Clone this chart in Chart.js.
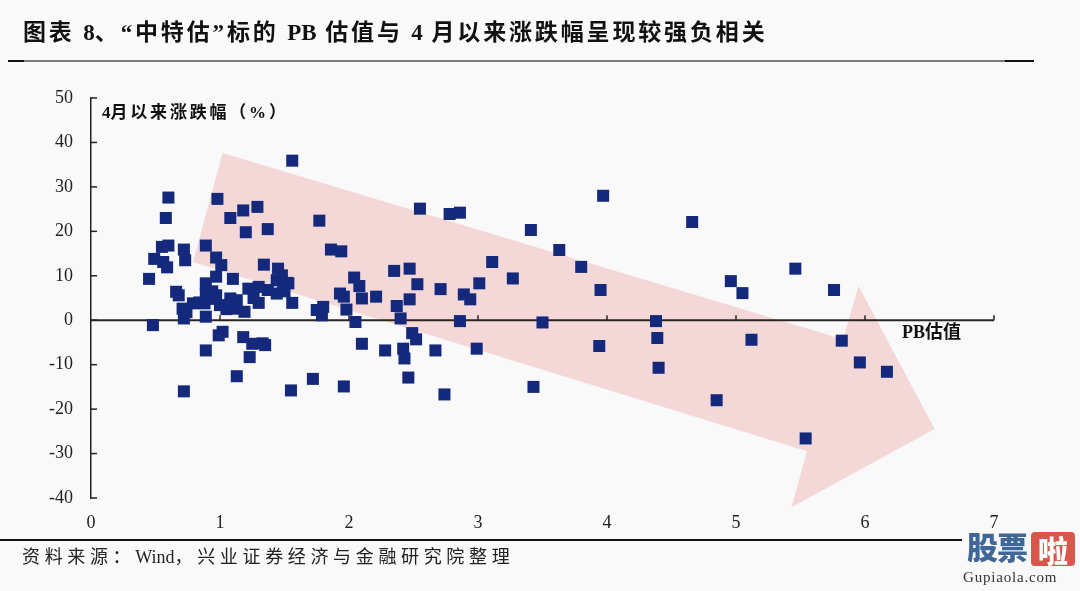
<!DOCTYPE html>
<html><head><meta charset="utf-8">
<script src="https://cdn.jsdelivr.net/npm/chart.js@4.4.0/dist/chart.umd.min.js"></script>
<style>
html,body{margin:0;padding:0;background:#f9f9f9;}
#wrap{position:relative;width:1080px;height:591px;overflow:hidden;background:#f9f9f9;}
canvas{position:absolute;left:0;top:0;}
.t{position:absolute;white-space:nowrap;color:#111;font-family:"Liberation Serif","Noto Sans CJK SC",serif;}
.l{letter-spacing:0;}
#title{left:23px;top:17px;font-size:23px;font-weight:700;letter-spacing:2.85px;line-height:32px;}
#ytitle{left:102px;top:102px;font-size:17px;font-weight:700;letter-spacing:2.8px;line-height:22px;}
#xtitle{left:902px;top:321px;font-size:18px;font-weight:700;line-height:22px;}
#foot{left:22px;top:545px;font-size:18px;letter-spacing:4.65px;line-height:24px;color:#222;}
.rule{position:absolute;}
#logo1{position:absolute;left:967px;top:527px;font-family:"Noto Sans CJK SC";font-weight:900;font-size:31px;line-height:38px;color:#3f6797;letter-spacing:-1px;}
#logo2{position:absolute;left:1031px;top:532px;width:44px;height:34px;background:#d9564c;border-radius:4px;color:#fff;font-family:"Noto Sans CJK SC";font-weight:900;font-size:30px;line-height:34px;text-align:center;}
#logo3{position:absolute;left:963px;top:569px;font-family:"Liberation Serif";font-size:15px;color:#333;letter-spacing:0.8px;}
</style></head>
<body><div id="wrap">
<canvas id="c" width="1080" height="591"></canvas>
<div class="t" id="title">图表 <span class="l">8</span>、“中特估”标的 <span class="l">PB</span> 估值与 <span class="l">4</span> 月以来涨跌幅呈现较强负相关</div>
<div class="rule" style="left:8px;top:60px;width:1026px;height:2px;background:#7a7a7a;"></div>
<div class="rule" style="left:8px;top:60px;width:16px;height:2px;background:#111;"></div>
<div class="rule" style="left:1005px;top:60px;width:29px;height:2px;background:#111;"></div>
<div class="t" id="ytitle"><span class="l">4</span>月以来涨跌幅（%）</div>
<div class="t" id="xtitle">PB估值</div>
<div class="rule" style="left:0px;top:539px;width:962px;height:2px;background:#111;"></div>
<div class="t" id="foot">资料来源：<span class="l">Wind</span>，兴业证券经济与金融研究院整理</div>
<div id="logo1">股票</div>
<div id="logo2">啦</div>
<div id="logo3">Gupiaola.com</div>
</div>
<script>
// ---- data ----
const pbValues = [
0.45,0.48,0.49,0.55,0.56,0.59,0.58,0.60,0.60,0.66,0.68,0.72,0.73,0.71,0.72,0.74,0.72,0.79,
0.84,0.88,0.89,0.89,0.89,0.89,0.89,0.94,0.97,0.97,0.97,0.98,1.00,1.01,1.02,0.99,0.95,
1.05,1.08,1.08,1.10,1.13,1.12,1.13,1.18,1.18,1.19,1.20,1.22,1.23,1.25,1.29,1.30,1.30,1.26,1.33,1.35,1.34,1.37,1.37,
1.44,1.44,1.45,1.48,1.49,1.52,1.53,1.56,1.55,1.56,1.50,
1.72,1.75,1.77,1.79,1.80,1.86,1.94,1.93,1.96,1.96,1.98,2.04,2.05,2.08,2.10,2.10,2.21,
2.28,2.35,2.37,2.40,2.42,2.43,2.46,2.47,2.47,2.49,2.52,2.53,2.55,2.67,2.71,2.74,2.78,2.86,2.86,2.89,2.94,3.01,2.99,
3.11,3.27,3.41,3.43,3.50,3.63,3.80,3.94,3.95,3.97,4.38,4.39,4.40,4.66,4.85,4.96,5.05,5.12,5.46,5.54,5.76,5.82,5.96,6.17
];
const changes = [
9.3,-1.1,13.8,16.5,13.1,11.9,23.0,27.6,16.8,6.4,5.6,15.9,13.5,2.6,0.4,1.8,-16.0,3.8,
4.0,3.8,8.3,6.0,0.8,16.8,-6.8,6.5,14.1,9.8,5.6,27.3,3.4,12.4,-2.6,-3.4,4.8,
2.5,23.0,4.9,9.3,4.5,2.6,-12.6,24.7,-3.8,1.9,19.8,7.1,-8.3,-5.3,25.5,7.5,3.9,5.0,-5.2,-5.6,12.5,20.5,6.8,
9.0,6.0,11.6,10.1,8.3,8.4,8.3,3.9,-15.8,35.9,6.5,
-13.2,2.3,22.4,1.1,3.0,15.9,15.5,6.0,5.3,-14.9,2.4,9.6,-0.4,7.7,4.9,-5.3,5.3,
-6.8,11.1,3.2,0.4,-6.4,-8.6,-12.9,11.6,4.7,-2.9,-4.3,8.1,25.1,-6.8,7.0,-16.7,23.9,24.2,-0.2,5.8,4.7,8.3,-6.4,
13.1,9.4,20.3,-15.0,-0.5,15.8,12.0,-5.8,6.8,28.0,-0.2,-4.0,-10.7,22.1,-18.0,8.8,6.1,-4.4,11.6,-26.6,6.8,-4.6,-9.5,-11.6
];
const xTicks = [0,1,2,3,4,5,6,7];
const yTicks = [-40,-30,-20,-10,0,10,20,30,40,50];
// trend arrow outline (in data units: PB, %)
const arrowShape = [[1.02,37.6],[5.83,-4.3],[5.95,7.7],[6.54,-24.5],[5.43,-42.1],[5.55,-29.5],[0.79,13.1]];

const points = pbValues.map((v,i)=>({x:v,y:changes[i]}));

const decor = {
  id:'decor',
  beforeDatasetsDraw(chart){
    const {ctx, scales:{x,y}} = chart;
    ctx.save();
    ctx.beginPath();
    arrowShape.forEach((p,i)=>{
      const px=x.getPixelForValue(p[0]), py=y.getPixelForValue(p[1]);
      if(i) ctx.lineTo(px,py); else ctx.moveTo(px,py);
    });
    ctx.closePath();
    ctx.fillStyle='#f4d8d7';
    ctx.fill();
    const y0 = y.getPixelForValue(0);
    ctx.strokeStyle='#2e2422';
    ctx.lineWidth=2;
    ctx.beginPath(); ctx.moveTo(x.left,y0); ctx.lineTo(x.right,y0); ctx.stroke();
    ctx.lineWidth=1.5;
    xTicks.forEach(v=>{
      if(v===0) return;
      const px=Math.round(x.getPixelForValue(v));
      ctx.beginPath(); ctx.moveTo(px,y0); ctx.lineTo(px,y0-5); ctx.stroke();
    });
    ctx.strokeStyle='#222';
    yTicks.forEach(v=>{
      const py=y.getPixelForValue(v);
      ctx.beginPath(); ctx.moveTo(x.left,py); ctx.lineTo(x.left+6,py); ctx.stroke();
    });
    ctx.restore();
  }
};

new Chart(document.getElementById('c'),{
  type:'scatter',
  data:{datasets:[{data:points,pointStyle:'rect',pointRadius:8.5,pointHoverRadius:8.5,backgroundColor:'#14297c',borderWidth:0}]},
  options:{
    responsive:false,animation:false,
    layout:{padding:{left:41,right:86,top:98,bottom:53}},
    plugins:{legend:{display:false},tooltip:{enabled:false}},
    scales:{
      x:{type:'linear',min:0,max:7,
        afterBuildTicks(s){s.ticks=xTicks.map(v=>({value:v}));},
        afterFit(s){s.height=40;},
        ticks:{font:{family:'Liberation Serif',size:18},color:'#222',padding:14,maxRotation:0},
        grid:{display:false,drawTicks:false},border:{display:false}},
      y:{type:'linear',min:-40,max:50,
        afterBuildTicks(s){s.ticks=yTicks.map(v=>({value:v}));},
        afterFit(s){s.width=50;},
        ticks:{font:{family:'Liberation Serif',size:18},color:'#222',padding:18},
        grid:{display:false,drawTicks:false},border:{display:true,color:'#222',width:1.5}}
    }
  },
  plugins:[decor]
});
</script>
</body></html>
